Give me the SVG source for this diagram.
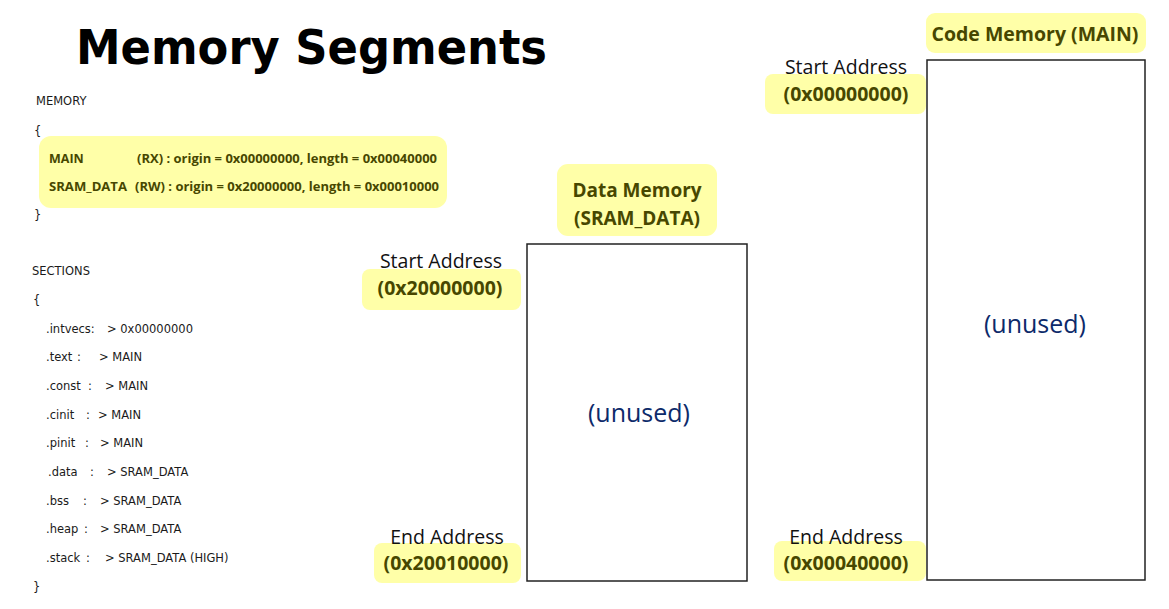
<svg xmlns="http://www.w3.org/2000/svg" width="1169" height="609" viewBox="0 0 1169 609">
<style>
.hl{fill:#ffffa8;stroke:none}
.box{fill:#ffffff;stroke:#222222;stroke-width:1.5}
.code{font-family:"DejaVu Sans",Verdana,sans-serif;font-size:11.5px;fill:#1a1a1a}
.mem{font-family:"Open Sans","Noto Sans",sans-serif;font-size:12.5px;font-weight:bold;fill:#474700}
.lbl{font-family:"Open Sans","Noto Sans",sans-serif;font-size:19.5px;fill:#111111;text-anchor:middle}
.addr{font-family:"Open Sans","Noto Sans",sans-serif;font-size:19.5px;font-weight:bold;fill:#474700;text-anchor:middle}
.unused{font-family:"Open Sans","Noto Sans",sans-serif;font-size:25px;fill:#0d2a6a;text-anchor:middle}
.title{font-family:"DejaVu Sans",Verdana,sans-serif;font-size:48px;font-weight:bold;fill:#000000}
</style>
<rect width="1169" height="609" fill="#ffffff"/>
<text class="title" x="76" y="64" textLength="471" lengthAdjust="spacingAndGlyphs">Memory Segments</text>

<g id="memory-spec">
<text class="code" x="36" y="105">MEMORY</text>
<text class="code" x="34" y="135">{</text>
<rect class="hl" x="39" y="136" width="408" height="72" rx="12"/>
<text class="mem" x="49" y="163">MAIN</text>
<text class="mem" x="137" y="163" textLength="300" lengthAdjust="spacingAndGlyphs">(RX) : origin = 0x00000000, length = 0x00040000</text>
<text class="mem" x="49" y="191" textLength="78" lengthAdjust="spacingAndGlyphs">SRAM_DATA</text>
<text class="mem" x="135" y="191" textLength="304" lengthAdjust="spacingAndGlyphs">(RW) : origin = 0x20000000, length = 0x00010000</text>
<text class="code" x="34" y="219">}</text>
</g>

<g id="sections-spec">
<text class="code" x="32" y="275">SECTIONS</text>
<text class="code" x="33" y="304">{</text>
<text class="code" x="46" y="333">.intvecs:</text><text class="code" x="107" y="333">&gt; 0x00000000</text>
<text class="code" x="46" y="361">.text</text><text class="code" x="77" y="361">:</text><text class="code" x="99" y="361">&gt; MAIN</text>
<text class="code" x="46" y="390">.const</text><text class="code" x="88" y="390">:</text><text class="code" x="105" y="390">&gt; MAIN</text>
<text class="code" x="46" y="419">.cinit</text><text class="code" x="86" y="419">:</text><text class="code" x="98" y="419">&gt; MAIN</text>
<text class="code" x="46" y="447">.pinit</text><text class="code" x="85" y="447">:</text><text class="code" x="100" y="447">&gt; MAIN</text>
<text class="code" x="48" y="476">.data</text><text class="code" x="90" y="476">:</text><text class="code" x="107" y="476">&gt; SRAM_DATA</text>
<text class="code" x="46" y="505">.bss</text><text class="code" x="83" y="505">:</text><text class="code" x="100" y="505">&gt; SRAM_DATA</text>
<text class="code" x="46" y="533">.heap</text><text class="code" x="84" y="533">:</text><text class="code" x="100" y="533">&gt; SRAM_DATA</text>
<text class="code" x="46" y="562">.stack</text><text class="code" x="86" y="562">:</text><text class="code" x="105" y="562">&gt; SRAM_DATA (HIGH)</text>
<text class="code" x="33" y="591">}</text>
</g>

<g id="data-memory">
<rect class="hl" x="557" y="164" width="160" height="72" rx="11"/>
<text class="addr" x="637" y="197" style="font-size:19px">Data Memory</text>
<text class="addr" x="637" y="225" style="font-size:19px">(SRAM_DATA)</text>
<rect class="box" x="527" y="244" width="220" height="337"/>
<text class="unused" x="639" y="422">(unused)</text>
</g>

<g id="data-start">
<rect class="hl" x="362" y="269" width="159" height="41" rx="8"/>
<text class="lbl" x="441" y="268">Start Address</text>
<text class="addr" x="440" y="295">(0x20000000)</text>
</g>

<g id="data-end">
<rect class="hl" x="374" y="543" width="147" height="40" rx="8"/>
<text class="lbl" x="447" y="544">End Address</text>
<text class="addr" x="446" y="570">(0x20010000)</text>
</g>

<g id="code-memory">
<rect class="hl" x="926" y="13" width="220" height="40" rx="9"/>
<text class="addr" x="1035" y="41">Code Memory (MAIN)</text>
<rect class="box" x="927" y="60" width="218" height="520"/>
<text class="unused" x="1035" y="333">(unused)</text>
</g>

<g id="code-start">
<rect class="hl" x="765" y="74" width="161" height="40" rx="8"/>
<text class="lbl" x="846" y="74">Start Address</text>
<text class="addr" x="846" y="101">(0x00000000)</text>
</g>

<g id="code-end">
<rect class="hl" x="774" y="541" width="152" height="40" rx="8"/>
<text class="lbl" x="846" y="544">End Address</text>
<text class="addr" x="846" y="570">(0x00040000)</text>
</g>

<g id="connectors"></g>
</svg>
